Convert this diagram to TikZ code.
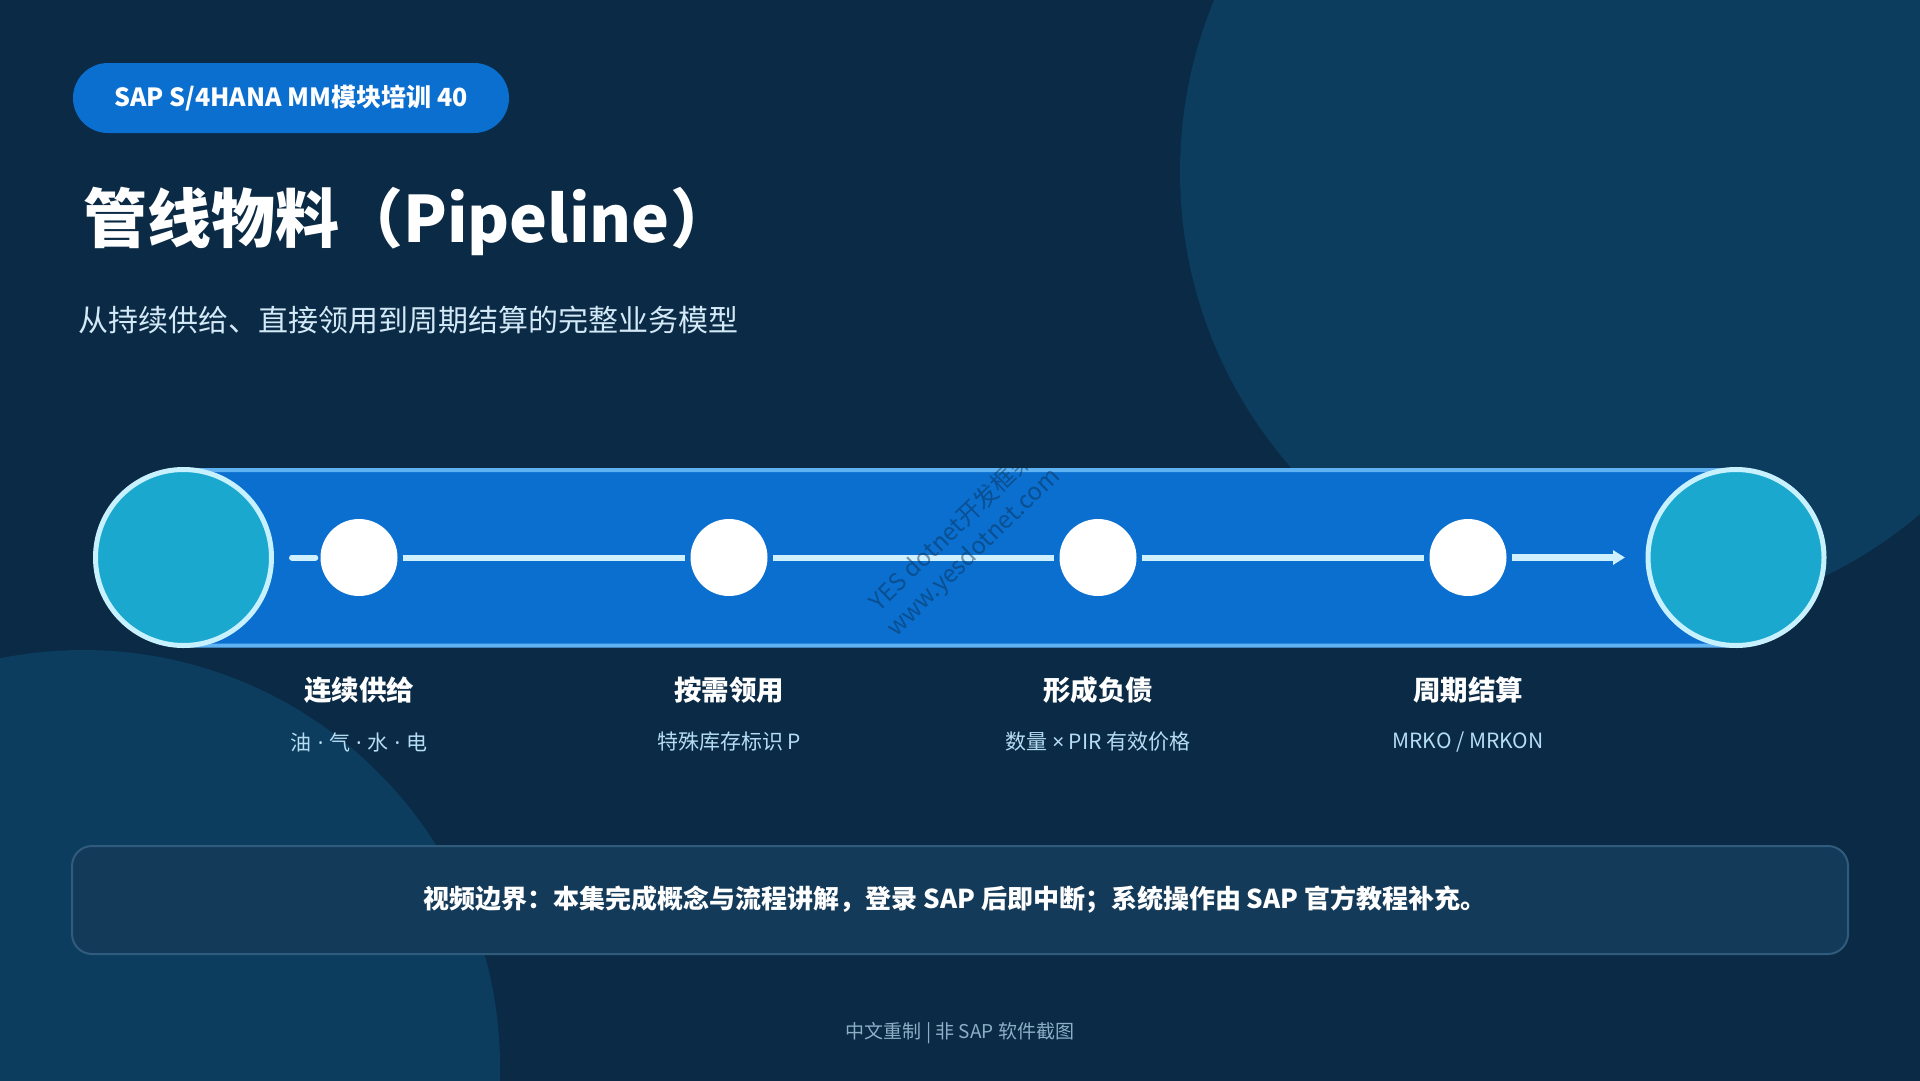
\documentclass[tikz,border=0pt]{standalone}
\usepackage{fontspec}
\setmainfont{Noto Sans CJK SC}
\newfontfamily\latinsym{Noto Sans}
\usetikzlibrary{arrows.meta}
\definecolor{bgdark}{HTML}{0A2A45}
\definecolor{bgcirc}{HTML}{0C3C5E}
\definecolor{badgeblue}{HTML}{0B6FD0}
\definecolor{pipeblue}{HTML}{0B6FD0}
\definecolor{pipeedge}{HTML}{5FB3F3}
\definecolor{endfill}{HTML}{1BA8CE}
\definecolor{endring}{HTML}{C8F1FF}
\definecolor{flowcol}{HTML}{CFF0FF}
\definecolor{subcol}{HTML}{D3E9F7}
\definecolor{smallcol}{HTML}{B5DDF2}
\definecolor{boxfill}{HTML}{143A59}
\definecolor{boxedge}{HTML}{2F5C7C}
\definecolor{footcol}{HTML}{8DAFC6}
\newcommand{\mdot}{{\latinsym\hspace{0.28em}·\hspace{0.28em}}}
\tikzset{
  endcap/.style={circle, fill=endfill, draw=endring, line width=5pt, minimum size=176pt, inner sep=0pt},
  dot/.style={circle, fill=white, minimum size=77pt, inner sep=0pt},
  flow/.style={draw=flowcol, line width=6pt, shorten <=5pt, shorten >=5pt},
  steptitle/.style={text=white, font=\fontsize{27.5}{30}\selectfont\bfseries, anchor=center},
  stepnote/.style={text=smallcol, font=\fontsize{21}{24}\selectfont, anchor=center},
  wmark/.style={text=bgdark, text opacity=0.45, font=\fontsize{24}{28}\selectfont, rotate=44},
}
\begin{document}
\begin{tikzpicture}[x=1pt,y=-1pt]
\useasboundingbox (0,0) rectangle (1920,1080);
\begin{scope}
\clip (-10,-10) rectangle (1930,1090);
\fill[bgdark] (-10,-10) rectangle (1930,1090);
\fill[bgcirc] (1629,172) circle[radius=449];
\fill[bgcirc] (83,1067) circle[radius=417];
\end{scope}

% badge
\fill[badgeblue, rounded corners=35pt] (73,63) rectangle (509,133);
\node[text=white, font=\fontsize{25}{28}\selectfont\bfseries] (badge) at (291,98) {SAP S/4HANA MM模块培训 40};

% title and subtitle
\node[text=white, font=\fontsize{64}{70}\selectfont\bfseries, anchor=west, inner sep=0pt] (title) at (83,221) {管线物料（Pipeline）};
\node[text=subcol, font=\fontsize{30}{34}\selectfont, anchor=west, inner sep=0pt] (subtitle) at (78,320) {从持续供给、直接领用到周期结算的完整业务模型};

% pipe
\filldraw[fill=pipeblue, draw=pipeedge, line width=4pt, rounded corners=6pt] (183,470) rectangle (1736,645.5);

\node[endcap] (left) at (183.5,557.5) {};
\node[endcap] (right) at (1736,557.5) {};

\node[dot] (n1) at (359,557.5) {};
\node[dot] (n2) at (729,557.5) {};
\node[dot] (n3) at (1098,557.5) {};
\node[dot] (n4) at (1468,557.5) {};

\coordinate (fstart) at (292,557.5);
\coordinate (fend) at (1625,557.5);
\draw[flow, line cap=round, shorten <=0pt] (fstart) -- (n1);
\draw[flow] (n1) -- (n2);
\draw[flow] (n2) -- (n3);
\draw[flow] (n3) -- (n4);
\draw[flow, shorten >=0pt, -{Triangle[length=12pt,width=14pt]}, line width=6.5pt] (n4) -- (fend);

% labels
\node[steptitle] (t1) at (359,690) {连续供给};
\node[steptitle] (t2) at (729,690) {按需领用};
\node[steptitle] (t3) at (1098,690) {形成负债};
\node[steptitle] (t4) at (1468,690) {周期结算};
\node[stepnote] (s1) at (359,742) {油\mdot 气\mdot 水\mdot 电};
\node[stepnote] (s2) at (729,742) {特殊库存标识 P};
\node[stepnote] (s3) at (1098,742) {数量 {\latinsym ×} PIR 有效价格};
\node[stepnote] (s4) at (1468,742) {MRKO / MRKON};

% watermark
\node[wmark] (wm1) at (951,530) {YES dotnet开发框架};
\node[wmark] (wm2) at (974,553) {www.yesdotnet.com};

% bottom box
\filldraw[fill=boxfill, draw=boxedge, line width=2pt, rounded corners=20pt] (72,846) rectangle (1848,954);
\node[text=white, font=\fontsize{26}{28}\selectfont\bfseries] (note) at (955,900) {视频边界：本集完成概念与流程讲解，登录 SAP 后即中断；系统操作由 SAP 官方教程补充。};

% footer
\node[text=footcol, font=\fontsize{19}{21}\selectfont] (foot) at (960,1033) {中文重制 | 非 SAP 软件截图};
\end{tikzpicture}
\end{document}
